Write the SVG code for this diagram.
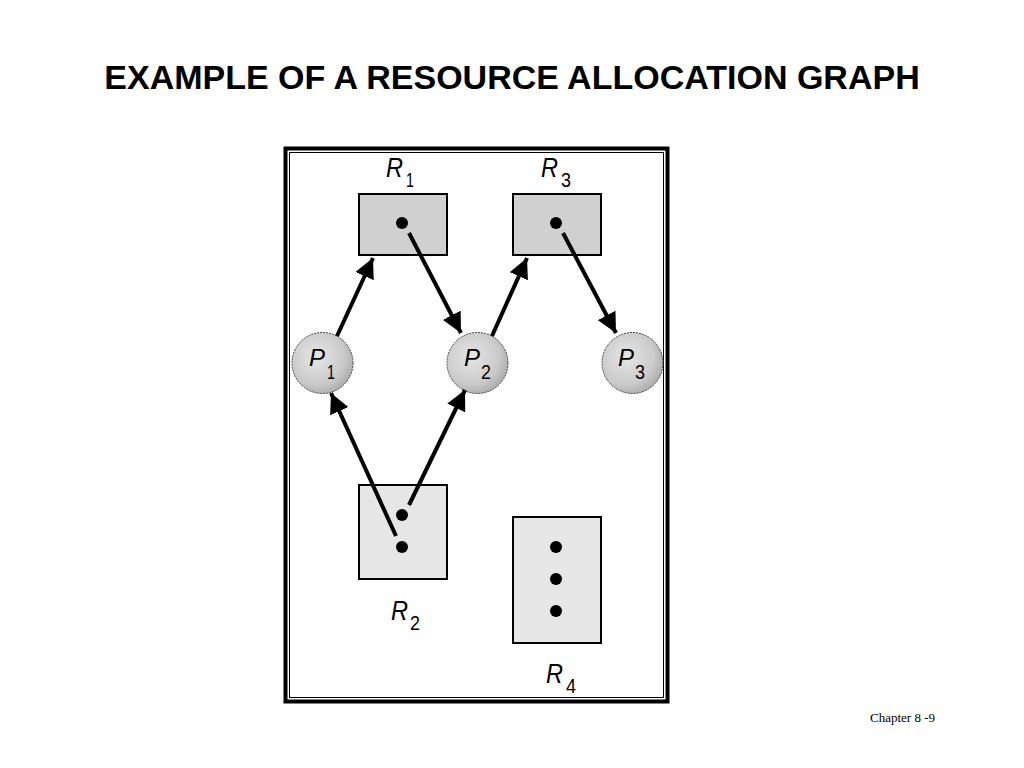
<svg xmlns="http://www.w3.org/2000/svg" width="1024" height="768" viewBox="0 0 1024 768">
<defs>
<style>
.title{font-family:"Liberation Sans",Arial,sans-serif;font-weight:bold;font-size:34px;fill:#000}
.lr{font-family:"Liberation Sans",Arial,sans-serif;font-style:italic;font-size:27px;fill:#000}
.lp{font-family:"Liberation Sans",Arial,sans-serif;font-style:italic;font-size:24px;fill:#000}
.sub{font-family:"Liberation Sans",Arial,sans-serif;font-size:21px;fill:#000}
.res1{fill:#d0d0d0;stroke:#000;stroke-width:2}
.res2{fill:#e6e6e6;stroke:#000;stroke-width:2}
.proc{fill:url(#pg);stroke:#444;stroke-width:1;stroke-dasharray:2 1}
.dot{fill:#000}
.edge{stroke:#000;stroke-width:4;fill:none;marker-end:url(#ah)}
.foot{font-family:"Liberation Serif","Times New Roman",serif;font-size:13px;fill:#000}
</style>
<radialGradient id="pg" cx="0.4" cy="0.4" r="0.65">
<stop offset="0" stop-color="#e6e6e6"/>
<stop offset="0.7" stop-color="#cacaca"/>
<stop offset="1" stop-color="#aaaaaa"/>
</radialGradient>
<marker id="ah" viewBox="0 0 10 10" refX="10" refY="5" markerWidth="5" markerHeight="5" orient="auto" markerUnits="strokeWidth">
<path d="M0,0 L10,5 L0,10 z" fill="#000"/>
</marker>
</defs>
<rect width="1024" height="768" fill="#fff"/>
<text class="title" x="512" y="89" text-anchor="middle">EXAMPLE OF A RESOURCE ALLOCATION GRAPH</text>
<g id="frame">
<rect x="285.5" y="148.5" width="382" height="553" fill="#fff" stroke="#000" stroke-width="4"/>
<rect x="289.5" y="152.5" width="374" height="545" fill="none" stroke="#000" stroke-width="1"/>
</g>
<g id="R1">
<rect class="res1" x="359" y="194" width="88" height="61"/>
<circle class="dot" cx="402" cy="223" r="6"/>
<text class="lr" x="386" y="177" textLength="17" lengthAdjust="spacingAndGlyphs">R</text><text class="sub" x="406" y="187" textLength="8" lengthAdjust="spacingAndGlyphs">1</text>
</g>
<g id="R3">
<rect class="res1" x="513" y="194" width="88" height="61"/>
<circle class="dot" cx="556" cy="223" r="6"/>
<text class="lr" x="541" y="177" textLength="17" lengthAdjust="spacingAndGlyphs">R</text><text class="sub" x="561" y="187" textLength="10" lengthAdjust="spacingAndGlyphs">3</text>
</g>
<g id="R2">
<rect class="res2" x="359" y="485" width="88" height="94"/>
<circle class="dot" cx="402" cy="515" r="6"/>
<circle class="dot" cx="402" cy="547" r="6"/>
<text class="lr" x="391" y="620" textLength="17" lengthAdjust="spacingAndGlyphs">R</text><text class="sub" x="410" y="630" textLength="10" lengthAdjust="spacingAndGlyphs">2</text>
</g>
<g id="R4">
<rect class="res2" x="513" y="517" width="88" height="126"/>
<circle class="dot" cx="556" cy="547" r="6"/>
<circle class="dot" cx="556" cy="579" r="6"/>
<circle class="dot" cx="556" cy="611" r="6"/>
<text class="lr" x="546" y="683" textLength="17" lengthAdjust="spacingAndGlyphs">R</text><text class="sub" x="566" y="693" textLength="10" lengthAdjust="spacingAndGlyphs">4</text>
</g>
<g id="P1">
<circle class="proc" cx="322.5" cy="363" r="30.5"/>
<text class="lp" x="309" y="366" textLength="16" lengthAdjust="spacingAndGlyphs">P</text><text class="sub" x="327" y="379" textLength="8" lengthAdjust="spacingAndGlyphs">1</text>
</g>
<g id="P2">
<circle class="proc" cx="477.5" cy="363" r="30.5"/>
<text class="lp" x="464" y="366" textLength="16" lengthAdjust="spacingAndGlyphs">P</text><text class="sub" x="481" y="379" textLength="10" lengthAdjust="spacingAndGlyphs">2</text>
</g>
<g id="P3">
<circle class="proc" cx="632.5" cy="363" r="30.5"/>
<text class="lp" x="618" y="366" textLength="16" lengthAdjust="spacingAndGlyphs">P</text><text class="sub" x="635" y="379" textLength="10" lengthAdjust="spacingAndGlyphs">3</text>
</g>
<g id="connectors">
<line class="edge" x1="337" y1="336" x2="373" y2="258"/>
<line class="edge" x1="409" y1="233" x2="461" y2="333"/>
<line class="edge" x1="492" y1="336" x2="527" y2="258"/>
<line class="edge" x1="563" y1="233" x2="616" y2="333"/>
<line class="edge" x1="396" y1="536" x2="331" y2="393"/>
<line class="edge" x1="409" y1="505" x2="465" y2="390"/>
</g>
<text class="foot" x="870" y="722">Chapter 8 -9</text>
</svg>
